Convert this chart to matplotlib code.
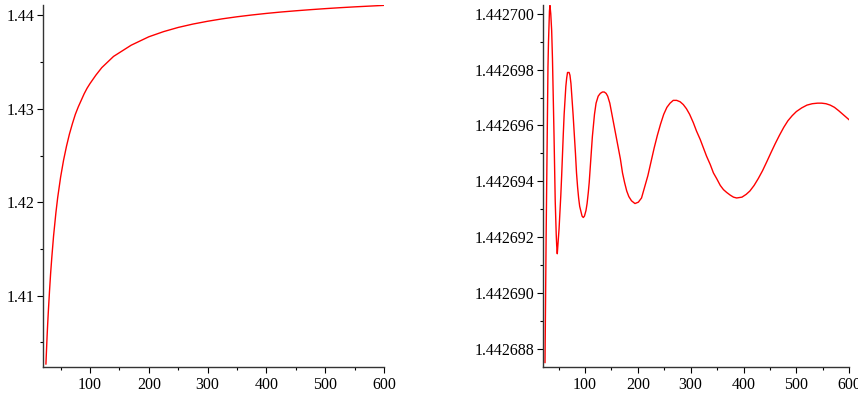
import matplotlib

matplotlib.use("Agg")

import matplotlib.pyplot as plt
from matplotlib.ticker import FixedLocator, FormatStrFormatter

# Left panel: slow rise towards ~1.4427
n_left = [25, 26, 27, 28, 29, 31, 33, 35, 38, 42, 45, 50, 55, 60, 65, 70,
          75, 80, 85, 90, 95, 100, 110, 120, 130, 140, 150, 160, 170, 180,
          200, 225, 250, 275, 300, 325, 350, 375, 400, 425, 450, 475, 500,
          525, 550, 575, 600]
v_left = [1.4027, 1.4042, 1.4057, 1.4070, 1.4082, 1.4104, 1.4124, 1.4141,
          1.4164, 1.4189, 1.4205, 1.4227, 1.4245, 1.4260, 1.4273, 1.4284,
          1.4294, 1.4302, 1.4309, 1.4316, 1.4322, 1.4327, 1.4336, 1.4344,
          1.4350, 1.4356, 1.4360, 1.4364, 1.4368, 1.4371, 1.43770, 1.43825,
          1.43870, 1.43906, 1.43936, 1.43962, 1.43984, 1.44003, 1.44020,
          1.44035, 1.44048, 1.44060, 1.44071, 1.44081, 1.44090, 1.44098,
          1.44106]

# Right panel: oscillation around 1.4426945 (values in 1e-7 above 1.44268)
n_right = [24.4, 25.5, 26.5, 27.6, 28.8, 30.0, 31.0, 31.9, 32.8, 33.8,
           35.3, 37.0, 38.5, 40.1, 41.4, 42.5, 43.7, 44.6, 45.6, 46.5, 47.6,
           49.5, 51.0, 52.7, 54.3, 55.9, 57.5, 59.0, 60.6, 62.2, 63.8, 65.4,
           67.0, 68.5, 70.0, 71.6, 73.5, 75.4, 77.5, 79.8, 82.0, 84.0, 86.0,
           88.0, 90.0, 92.5, 94.5, 96.8, 99.0, 101.9, 104.0, 106.3, 108.0,
           110.0, 112.0, 114.0, 116.0, 118.0, 121.0, 125.0, 129.0, 133.0,
           136.5, 140.0, 143.0, 147.0, 151.0, 155.0, 159.0, 163.0, 167.0,
           171.0, 175.0, 179.0, 183.0, 188.0, 194.6, 201.0, 207.0, 213.0,
           219.0, 225.0, 231.0, 237.0, 243.0, 249.0, 255.0, 261.0, 267.0,
           273.5, 280.0, 286.0, 292.0, 298.0, 305.0, 311.0, 318.0, 324.0,
           330.0, 337.0, 343.0, 349.0, 356.0, 362.0, 368.0, 375.0, 381.0,
           387.0, 397.0, 405.0, 412.0, 420.0, 428.0, 436.0, 444.0, 452.0,
           460.0, 468.0, 476.0, 484.0, 492.0, 500.0, 510.0, 520.0, 530.0,
           540.0, 547.8, 556.0, 564.0, 572.0, 580.0, 588.0, 595.0, 600.0]
v_right_e7 = [75, 100, 120, 140, 163, 181, 190, 195, 201, 203,
              200, 194, 184, 170, 157, 145, 133, 127, 121, 117, 114,
              119, 123, 129, 135, 142, 150, 157, 164, 169, 174, 177,
              179, 179, 179, 178, 175, 170, 164, 157, 150, 143, 138,
              134, 131, 129, 127.5, 127, 127.5, 129.5, 132, 136, 139.5,
              145, 151, 156, 160, 164, 168, 170.5, 171.5, 172,
              172, 171.5, 170.5, 168, 164, 160, 156, 152, 148,
              143, 139.5, 136.5, 134.5, 133, 132, 132.5, 134, 138,
              142, 147, 152, 156.5, 160.5, 164, 166.5, 168, 169,
              169, 168.5, 167.5, 166, 164, 161, 158, 155, 152,
              149, 146, 143, 141, 138.5, 137, 136, 135, 134.3,
              134, 134.3, 135.3, 136.5, 138.5, 141, 143.8, 147, 150.3,
              153.5, 156.5, 159.3, 161.7, 163.5, 165, 166.3, 167.3, 167.8,
              168, 168, 167.8, 167.3, 166.5, 165.3, 164, 162.9, 162]
v_right = [1.44268 + v * 1e-7 for v in v_right_e7]

plt.rcParams["font.family"] = ["Liberation Serif", "DejaVu Serif"]
plt.rcParams["font.size"] = 11.5

fig = plt.figure(figsize=(8.58, 3.93), dpi=100)
ax1 = fig.add_axes([0.0501, 0.0662, 0.3975, 0.9211])
ax2 = fig.add_axes([0.6325, 0.0662, 0.3573, 0.9211])

ax1.plot(n_left, v_left, color="red", linewidth=1.0)
ax2.plot(n_right, v_right, color="red", linewidth=1.0)

ax1.set_ylim(1.40238, 1.4411)
ax2.set_ylim(1.44268734, 1.44270032)

ax1.yaxis.set_major_locator(FixedLocator([1.41, 1.42, 1.43, 1.44]))
ax1.yaxis.set_minor_locator(FixedLocator([1.405, 1.415, 1.425, 1.435]))
ax1.yaxis.set_major_formatter(FormatStrFormatter("%.2f"))

ax2.yaxis.set_major_locator(FixedLocator([1.442688 + 2e-6 * i for i in range(7)]))
ax2.yaxis.set_minor_locator(FixedLocator([1.442689 + 2e-6 * i for i in range(6)]))
ax2.yaxis.set_major_formatter(FormatStrFormatter("%.6f"))

for ax in (ax1, ax2):
    ax.set_xlim(20, 600)
    ax.xaxis.set_major_locator(FixedLocator([100, 200, 300, 400, 500, 600]))
    ax.xaxis.set_minor_locator(FixedLocator([50, 150, 250, 350, 450, 550]))
    ax.spines["top"].set_visible(False)
    ax.spines["right"].set_visible(False)
    for side in ("left", "bottom"):
        ax.spines[side].set_linewidth(1.0)
        ax.spines[side].set_color("#333333")
    ax.tick_params(which="major", direction="out", length=4, width=0.8,
                   pad=2, colors="black")
    ax.tick_params(which="minor", direction="out", length=2.5, width=0.8)
    ax.tick_params(axis="x", pad=3)
    ax.yaxis.get_offset_text().set_visible(False)

fig.savefig("out.png", dpi=100)
